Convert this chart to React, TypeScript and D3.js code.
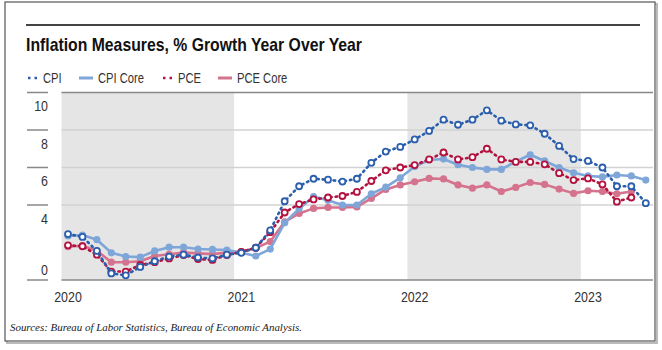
import * as d3 from 'd3';

// monthly YoY % change, Jan 2020 onward
const cpi = [
    2.45, 2.3, 1.55, 0.35, 0.25, 0.7, 1.0, 1.25, 1.35, 1.2, 1.15, 1.35,
    1.45, 1.72, 2.65, 4.2, 5.0, 5.4, 5.35, 5.25, 5.4, 6.25, 6.85, 7.1,
    7.5, 7.95, 8.55, 8.28, 8.55, 9.05, 8.5, 8.3, 8.25, 7.8, 7.15, 6.45,
    6.35, 6.0, 5.0, 5.0, 4.1,
];
const cpiCore = [
    2.35, 2.4, 2.15, 1.45, 1.25, 1.22, 1.55, 1.75, 1.75, 1.65, 1.63, 1.6,
    1.45, 1.28, 1.65, 3.05, 3.8, 4.45, 4.25, 4.0, 4.0, 4.6, 4.95, 5.45,
    6.05, 6.4, 6.45, 6.15, 6.0, 5.9, 5.9, 6.32, 6.68, 6.35, 6.0, 5.72,
    5.55, 5.5, 5.6, 5.55, 5.33,
];
const pce = [
    1.85, 1.8, 1.35, 0.45, 0.45, 0.8, 0.95, 1.15, 1.33, 1.12, 1.07, 1.33,
    1.5, 1.72, 2.55, 3.6, 4.05, 4.3, 4.4, 4.48, 4.7, 5.28, 5.85, 6.0,
    6.13, 6.43, 6.8, 6.43, 6.55, 7.0, 6.43, 6.3, 6.3, 6.17, 5.7, 5.33,
    5.42, 5.1, 4.18, 4.4,
];
const pceCore = [
    1.78, 1.83, 1.56, 0.95, 0.95, 1.0, 1.28, 1.37, 1.47, 1.42, 1.38, 1.46,
    1.52, 1.7, 2.05, 3.1, 3.55, 3.82, 3.87, 3.87, 3.9, 4.35, 4.83, 5.07,
    5.24, 5.42, 5.39, 5.07, 4.9, 5.07, 4.72, 4.94, 5.2, 5.1, 4.85, 4.62,
    4.76, 4.72, 4.6, 4.72,
];
const years = [2020, 2021, 2022, 2023];
const shadedYears = [2020, 2022];
const yTicks = [10, 8, 6, 4, 0];
const gridTicks = [8, 6, 4];

const W = 662;
const H = 350;
const font = '"Liberation Sans", Arial, sans-serif';
const squeeze = 0.8; // fake a narrow face

const x = d3.scaleLinear().domain([-0.45, 40.5]).range([61.5, 653]);
const y = d3.scaleLinear().domain([0, 10]).range([280, 92.5]);

const series = [
    { name: 'PCE Core', values: pceCore, color: '#d5728d', dotted: false },
    { name: 'CPI Core', values: cpiCore, color: '#7ea6d9', dotted: false },
    { name: 'PCE', values: pce, color: '#b3123f', dotted: true },
    { name: 'CPI', values: cpi, color: '#2b5fad', dotted: true },
];
const legendOrder = ['CPI', 'CPI Core', 'PCE', 'PCE Core'];
const legendX = [27, 79, 162, 218];

const line = d3
    .line<number>()
    .x((_, i) => x(i))
    .y(d => y(d));

const Narrow = ({ x, y, size, anchor, children }: any) => (
    <text transform={`translate(${x},${y}) scale(${squeeze},1)`} textAnchor={anchor ?? 'start'}
        fontFamily={font} fontSize={size} fill="#333">
        {children}
    </text>
);

const App = () => {
    const [x0, x1] = x.range();
    return (
        <svg width={W} height={H} style={{ position: 'absolute', left: 0, top: 0, background: '#fff' }}>
            {/* frame */}
            <rect x={7} y={4} width={650} height={339} fill="none" stroke="#bbb" strokeWidth={2} />
            <rect x={5} y={2} width={650} height={339} fill="#fff" stroke="#555" strokeWidth={1.2} />
            <line x1={26} x2={640} y1={25} y2={25} stroke="#444" strokeWidth={2} />

            <text x={26} y={51} fontFamily={font} fontWeight="bold" fontSize={18.5} fill="#111"
                textLength={336} lengthAdjust="spacingAndGlyphs">
                Inflation Measures, % Growth Year Over Year
            </text>

            {/* legend */}
            {legendOrder.map((name, i) => {
                const s = series.find(d => d.name === name)!;
                return (
                    <g key={name} transform={`translate(${legendX[i]},78)`}>
                        {s.dotted ? (
                            <line x1={1} x2={11} y1={0} y2={0} stroke={s.color} strokeWidth={2.5}
                                strokeDasharray="2.5,4" />
                        ) : (
                            <line x1={0} x2={14} y1={0} y2={0} stroke={s.color} strokeWidth={3} />
                        )}
                        <Narrow x={s.dotted ? 16 : 19} y={5} size={14}>{name}</Narrow>
                    </g>
                );
            })}

            {/* shaded years */}
            {shadedYears.map(yr => {
                const m = (yr - 2020) * 12;
                const a = Math.max(x0, x(m - 0.5));
                return (
                    <rect key={yr} x={a} y={y(10)} width={x(m + 11.5) - a} height={y(0) - y(10)} fill="#e5e5e5" />
                );
            })}

            {/* gridlines */}
            {gridTicks.map(t => (
                <line key={t} x1={x0} x2={x1} y1={y(t)} y2={y(t)} stroke="#d2d2d2" strokeWidth={1.5} />
            ))}
            <line x1={x0} x2={x1} y1={y(10)} y2={y(10)} stroke="#888" strokeWidth={1.5} />
            <line x1={x0} x2={x1} y1={y(0)} y2={y(0)} stroke="#888" strokeWidth={1.5} />

            {/* y axis */}
            {yTicks.map(t => (
                <g key={t}>
                    <line x1={27} x2={48} y1={y(t)} y2={y(t)} stroke="#888" strokeWidth={1.5} />
                    <Narrow x={48} y={t === 0 ? y(t) - 5 : y(t) + 18.5} size={15.5} anchor="end">{t}</Narrow>
                </g>
            ))}

            {/* x axis */}
            {years.map(yr => (
                <Narrow key={yr} x={x((yr - 2020) * 12)} y={302} size={15.5} anchor="middle">{yr}</Narrow>
            ))}

            {/* series */}
            {series.map(s => (
                <g key={s.name}>
                    <path d={line(s.values) ?? ''} fill="none" stroke={s.color} strokeWidth={2.6}
                        strokeDasharray={s.dotted ? '1.5,4' : undefined}
                        strokeLinecap={s.dotted ? 'round' : 'butt'} strokeLinejoin="round" />
                    {s.values.map((v, i) =>
                        s.dotted ? (
                            <circle key={i} cx={x(i)} cy={y(v)} r={3} fill="#fff" stroke={s.color} strokeWidth={1.8} />
                        ) : (
                            <circle key={i} cx={x(i)} cy={y(v)} r={3.6} fill={s.color} />
                        )
                    )}
                </g>
            ))}

            <text x={10} y={331} fontFamily='"Liberation Serif", "DejaVu Serif", serif' fontStyle="italic"
                fontSize={11} fill="#222" textLength={292} lengthAdjust="spacingAndGlyphs">
                Sources: Bureau of Labor Statistics, Bureau of Economic Analysis.
            </text>
        </svg>
    );
};

export default App;
